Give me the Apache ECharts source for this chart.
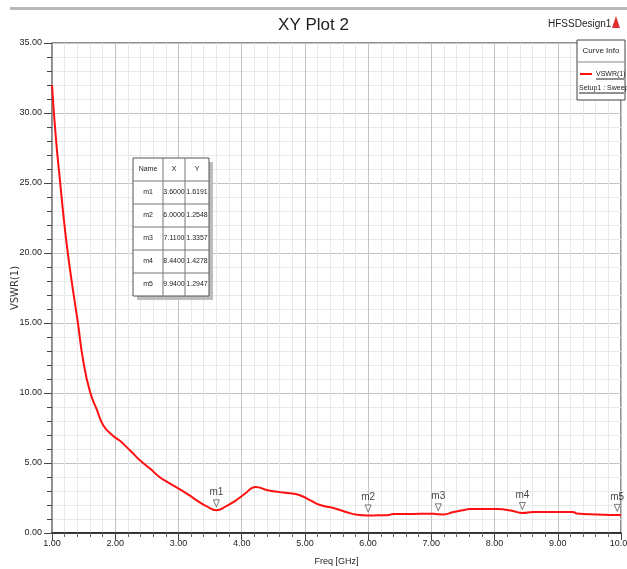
<!DOCTYPE html>
<html><head><meta charset="utf-8">
<script src="https://cdn.jsdelivr.net/npm/echarts@6/dist/echarts.min.js"></script>
<style>html,body{margin:0;padding:0;background:#fff}#c{width:627px;height:569px}</style>
</head><body><div id="c"></div>
<script>
// Curve VSWR(1) vs frequency (GHz)
const freq = [1.00,1.06,1.13,1.19,1.25,1.33,1.41,1.49,1.60,1.71,1.81,1.95,2.07,2.19,2.30,2.39,2.55,2.70,2.84,3.03,3.17,3.30,3.45,3.60,3.75,3.90,4.05,4.22,4.41,4.60,4.72,4.92,5.08,5.24,5.45,5.65,5.83,6.00,6.15,6.30,6.40,6.70,7.03,7.11,7.19,7.35,7.50,7.61,7.80,8.04,8.29,8.44,8.61,8.90,9.24,9.30,9.62,9.94,10.00];
const vswr = [32.0,28.3,25.0,22.3,20.0,17.4,15.0,12.4,10.1,8.8,7.7,7.0,6.6,6.1,5.6,5.2,4.6,4.0,3.6,3.1,2.7,2.3,1.9,1.62,1.9,2.3,2.8,3.29,3.05,2.92,2.86,2.7,2.35,2.0,1.79,1.5,1.3,1.25,1.26,1.27,1.35,1.36,1.38,1.34,1.33,1.5,1.62,1.71,1.72,1.71,1.57,1.43,1.5,1.5,1.5,1.4,1.33,1.29,1.29];
// Markers
const markerNames = ['m1','m2','m3','m4','m5'];
const markerX = [3.6000, 6.0000, 7.1100, 8.4400, 9.9400];
const markerY = [1.6191, 1.2548, 1.3357, 1.4278, 1.2947];
// Axis ticks
const xTicks = [1,2,3,4,5,6,7,8,9,10];
const yTicks = [0,5,10,15,20,25,30,35];
const titleText = 'XY Plot 2';
const designName = 'HFSSDesign1';
const seriesName = 'VSWR(1)';
const setupName = 'Setup1 : Sweep';
const xName = 'Freq [GHz]';
const yName = 'VSWR(1)';

const FONT = 'Liberation Sans';
const chart = echarts.init(document.getElementById('c'));

// marker table built via graphic
const tbl = {x:133, y:158, colW:[30,22,24], rowH:23};
const tableEls = [];
const totalW = tbl.colW.reduce((a,b)=>a+b,0);
const rows = [['Name','X','Y']].concat(markerNames.map((n,i)=>[n, markerX[i].toFixed(4), markerY[i].toFixed(4)]));
const totalH = tbl.rowH*rows.length;
tableEls.push({type:'rect', shape:{x:tbl.x+4,y:tbl.y+4,width:totalW,height:totalH}, style:{fill:'#bdbdbd'}, z:10});
tableEls.push({type:'rect', shape:{x:tbl.x,y:tbl.y,width:totalW,height:totalH}, style:{fill:'#fff',stroke:'#555',lineWidth:1}, z:11});
rows.forEach((r,ri)=>{
  if(ri>0) tableEls.push({type:'line', shape:{x1:tbl.x,y1:tbl.y+ri*tbl.rowH,x2:tbl.x+totalW,y2:tbl.y+ri*tbl.rowH}, style:{stroke:'#777',lineWidth:1}, z:12});
  let cx = tbl.x;
  r.forEach((t,ci)=>{
    if(ri===0 && ci>0) tableEls.push({type:'line', shape:{x1:cx,y1:tbl.y,x2:cx,y2:tbl.y+totalH}, style:{stroke:'#777',lineWidth:1}, z:12});
    tableEls.push({type:'text', x:cx+tbl.colW[ci]/2, y:tbl.y+ri*tbl.rowH+tbl.rowH/2, style:{text:t, fill:'#222', fontFamily:FONT, fontSize:7, align:'center', verticalAlign:'middle'}, z:13});
    cx += tbl.colW[ci];
  });
});

const option = {
  animation:false,
  backgroundColor:'#fff',
  title:{text:titleText, left:'center', top:12, textStyle:{fontFamily:FONT, fontSize:17, fontWeight:'normal', color:'#222'}},
  grid:{left:52, top:43, right:6, bottom:36, outerBoundsMode:'none', containLabel:false, show:true, borderColor:'#222', borderWidth:1, backgroundColor:'transparent'},
  xAxis:{type:'value', min:xTicks[0], max:xTicks[xTicks.length-1], interval:1,
    name:xName, nameLocation:'middle', nameGap:24, nameTextStyle:{fontFamily:FONT, fontSize:9, color:'#222'},
    axisLine:{show:true, lineStyle:{color:'#111', width:1.5}},
    axisTick:{show:true, inside:false, length:7, lineStyle:{color:'#444'}},
    minorTick:{show:true, splitNumber:5, length:4, lineStyle:{color:'#666'}},
    axisLabel:{formatter:v=>v.toFixed(2), fontFamily:FONT, fontSize:9, color:'#222', margin:6},
    splitLine:{show:true, lineStyle:{color:'#c4c4c4', width:1}},
    minorSplitLine:{show:true, lineStyle:{color:'#e8e8e8', width:1}}
  },
  yAxis:{type:'value', min:yTicks[0], max:yTicks[yTicks.length-1], interval:5,
    name:yName, nameLocation:'middle', nameGap:32, nameMoveOverlap:false, nameRotate:90, nameTextStyle:{fontFamily:'DejaVu Sans', fontSize:10, color:'#333'},
    axisLine:{show:true, lineStyle:{color:'#888', width:1.5}},
    axisTick:{show:true, length:8, lineStyle:{color:'#444'}},
    minorTick:{show:true, splitNumber:5, length:5, lineStyle:{color:'#444'}},
    axisLabel:{formatter:v=>v.toFixed(2), fontFamily:FONT, fontSize:9, color:'#222', margin:10},
    splitLine:{show:true, lineStyle:{color:'#c4c4c4', width:1}},
    minorSplitLine:{show:true, lineStyle:{color:'#e8e8e8', width:1}}
  },
  series:[
    {name:seriesName, type:'line', data:freq.map((f,i)=>[f,vswr[i]]), smooth:0.5, showSymbol:false,
     lineStyle:{color:'#ff1010', width:2}, itemStyle:{color:'#ff1010'}, z:5},
    {name:'markers', type:'scatter', data:markerX.map((x,i)=>({value:[x,markerY[i]], name:markerNames[i]})),
     symbol:'triangle', symbolRotate:180, symbolSize:[6,7], symbolOffset:[0,-7],
     itemStyle:{color:'#fff', borderColor:'#333', borderWidth:0.8},
     label:{show:true, formatter:p=>p.name, position:'top', distance:2, fontFamily:FONT, fontSize:10, color:'#111'}, z:6}
  ],
  graphic:[
    {type:'rect', shape:{x:10,y:7,width:617,height:3}, style:{fill:'#b8b8b8'}, z:1},
    {type:'text', x:548, y:19, style:{text:designName, fontFamily:FONT, fontSize:10, fill:'#222'}, z:10},
    {type:'polygon', shape:{points:[[616,16],[612,28],[620,28]]}, style:{fill:'#e03030'}, z:10},
    {type:'rect', shape:{x:577,y:40,width:48,height:60}, style:{fill:'#fff', stroke:'#444', lineWidth:1}, z:10},
    {type:'line', shape:{x1:577,y1:62,x2:625,y2:62}, style:{stroke:'#888'}, z:11},
    {type:'text', x:601, y:51, style:{text:'Curve Info', fontFamily:FONT, fontSize:8, fill:'#222', align:'center', verticalAlign:'middle'}, z:11},
    {type:'line', shape:{x1:580,y1:74,x2:592,y2:74}, style:{stroke:'#ff1010', lineWidth:2}, z:11},
    {type:'text', x:596, y:74, style:{text:seriesName, fontFamily:FONT, fontSize:7, fill:'#222', verticalAlign:'middle'}, z:11},
    {type:'line', shape:{x1:596,y1:79,x2:624,y2:79}, style:{stroke:'#222'}, z:11},
    {type:'text', x:579, y:88, style:{text:setupName, fontFamily:FONT, fontSize:7, fill:'#222', verticalAlign:'middle'}, z:11},
    {type:'line', shape:{x1:579,y1:93,x2:624,y2:93}, style:{stroke:'#222'}, z:11}
  ].concat(tableEls)
};
chart.setOption(option);
</script></body></html>
